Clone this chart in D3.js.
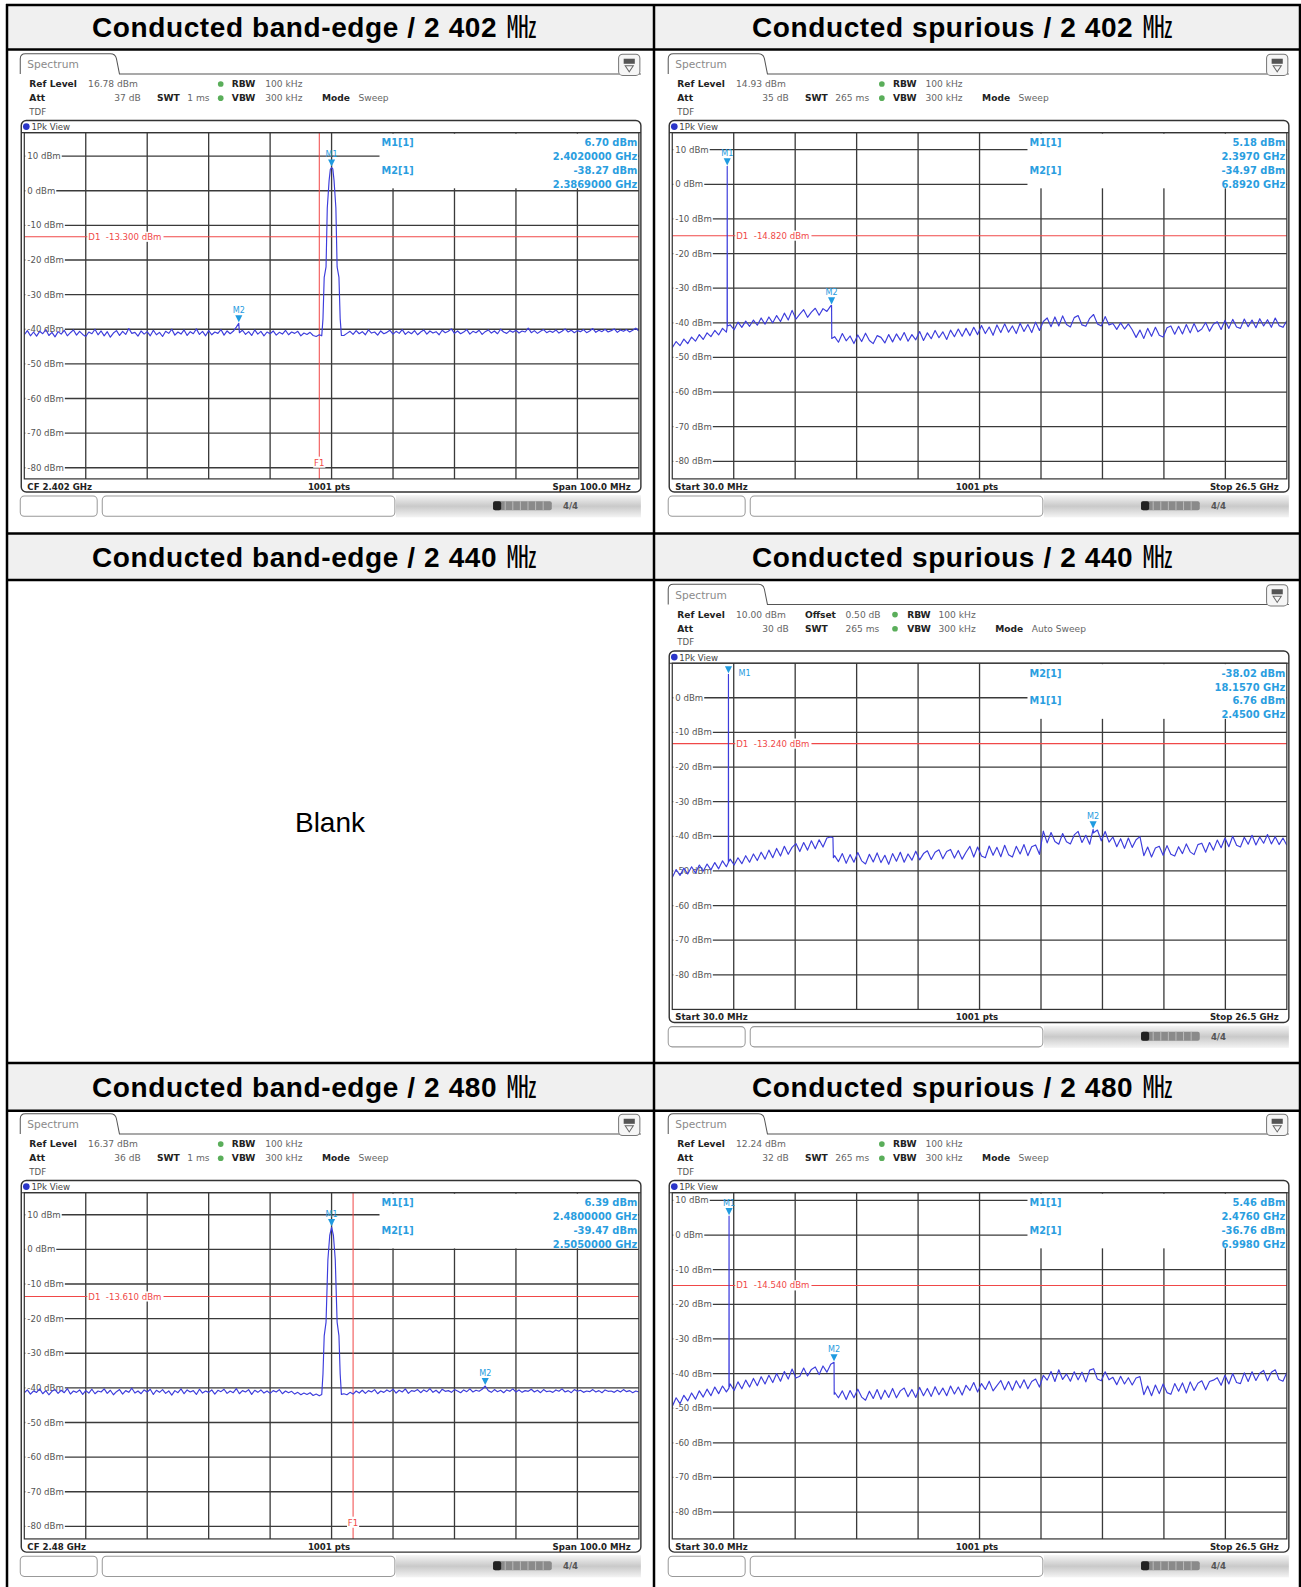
<!DOCTYPE html>
<html><head><meta charset="utf-8">
<script src="https://cdn.jsdelivr.net/npm/d3@7"></script>
<style>body{margin:0;background:#fff}svg{display:block}</style>
</head><body>
<script>
// ================= DATA =================
const rowTitlesLeft  = ["Conducted band-edge / 2 402", "Conducted band-edge / 2 440", "Conducted band-edge / 2 480"];
const rowTitlesRight = ["Conducted spurious / 2 402", "Conducted spurious / 2 440", "Conducted spurious / 2 480"];
const unitText = "㎒";
const blankText = "Blank";

// band-edge noise floor, 0.5 MHz steps from CF-50 MHz to CF+50 MHz (dBm)
const beNoise2402 = [
 -41.6,-40.4,-41.9,-40.8,-42.0,-40.6,-41.3,-40.1,-41.8,-40.9,-42.2,-40.7,-41.4,-40.3,-41.9,-41.0,-40.2,-41.7,-40.6,-41.5,
 -42.1,-40.8,-41.3,-40.0,-41.6,-40.5,-41.9,-40.7,-42.3,-41.1,-40.4,-41.8,-40.6,-41.5,-39.8,-41.2,-40.9,-42.0,-40.5,-41.4,
 -40.7,-41.9,-40.3,-41.6,-40.9,-42.1,-40.6,-41.2,-40.0,-41.7,-40.8,-41.4,-40.2,-41.8,-40.7,-41.3,-39.9,-41.5,-40.6,-41.9,
 -40.4,-41.6,-40.8,-41.2,-40.1,-41.7,-40.5,-41.3,-40.6,-39.4,-41.0,-40.3,-41.5,-40.7,-41.8,-40.2,-41.4,-40.6,-41.9,-40.8,
 -41.3,-40.5,-41.7,-40.9,-41.4,-40.3,-41.6,-40.8,-41.2,-40.6,-41.9,-41.1,-41.5,-40.9,-41.8,-42.1,-41.6,-42.3,-42.0,-42.2,
 -42.0,
 -42.1,-41.9,-42.2,-41.8,-41.2,-40.6,-41.5,-40.4,-41.3,-40.7,-41.6,-40.2,-41.1,-40.8,-41.7,-40.5,-41.3,-40.9,-40.3,-41.4,
 -40.6,-41.2,-40.1,-41.5,-40.7,-41.3,-40.4,-41.6,-40.8,-40.2,-41.4,-40.5,-41.1,-40.7,-41.6,-40.3,-41.0,-40.6,-39.9,-41.2,
 -40.5,-41.3,-40.8,-40.1,-41.4,-40.6,-41.0,-40.3,-41.5,-40.7,-40.2,-41.1,-40.5,-41.3,-40.0,-40.8,-41.2,-40.4,-40.9,-40.3,
 -41.1,-40.5,-40.8,-39.7,-41.0,-40.4,-41.2,-40.6,-40.1,-41.0,-40.5,-40.9,-40.2,-41.1,-40.6,-39.9,-40.8,-40.3,-41.0,-40.4,
 -40.7,-40.1,-41.0,-40.5,-39.8,-40.9,-40.3,-40.7,-40.0,-40.8,-40.4,-39.9,-40.9,-40.2,-40.6,-40.1,-40.8,-40.3,-39.7,-40.5];
const beNoise2480 = [
 -41.4,-40.6,-41.8,-40.9,-41.3,-40.3,-41.7,-40.8,-42.0,-41.0,-40.5,-41.6,-40.7,-41.4,-40.2,-41.8,-40.9,-41.3,-40.6,-41.9,
 -40.8,-41.5,-40.4,-41.7,-40.9,-41.2,-40.3,-41.6,-40.7,-42.0,-41.1,-40.5,-41.8,-40.8,-41.3,-40.1,-41.5,-40.9,-41.7,-40.6,
 -41.2,-40.4,-41.9,-40.7,-41.3,-40.5,-41.6,-40.9,-42.1,-40.8,-41.4,-40.3,-41.7,-40.6,-41.2,-40.8,-41.9,-40.4,-41.5,-40.9,
 -41.3,-40.6,-41.8,-40.7,-41.1,-40.4,-41.6,-40.9,-41.4,-40.2,-41.7,-40.8,-41.2,-40.5,-41.9,-40.7,-41.3,-40.6,-41.5,-40.9,
 -41.6,-40.8,-41.2,-40.5,-41.7,-40.9,-41.4,-41.0,-41.8,-41.3,-42.0,-41.5,-41.9,-41.4,-42.2,-41.8,-42.3,-42.0,-42.4,-42.1,
 -42.0,
 -42.2,-41.9,-42.3,-41.7,-42.0,-41.3,-41.8,-40.9,-41.5,-40.7,-41.6,-40.8,-41.2,-40.5,-41.7,-40.9,-41.3,-40.6,-41.1,-40.4,
 -41.5,-40.7,-41.2,-40.3,-41.6,-40.8,-41.0,-40.5,-41.4,-40.6,-41.1,-40.2,-41.3,-40.7,-41.5,-40.4,-41.0,-40.8,-41.3,-40.5,
 -40.9,-41.4,-40.6,-41.1,-40.3,-41.2,-40.7,-41.0,-40.4,-39.47,-40.8,-41.3,-40.5,-41.1,-40.7,-41.4,-40.6,-41.0,-40.3,-41.2,
 -40.6,-41.3,-40.8,-41.0,-40.4,-41.2,-40.7,-41.4,-40.5,-41.1,-40.9,-41.3,-40.6,-41.0,-40.3,-41.2,-40.8,-41.4,-40.5,-41.0,
 -40.7,-41.3,-40.9,-41.1,-40.5,-41.2,-40.8,-41.4,-40.6,-41.0,-40.9,-41.3,-40.7,-41.2,-40.5,-41.1,-40.8,-41.4,-40.9,-41.2];
// carrier shape (offset from CF in MHz, dBm)
const bePeakOffsets2402 = [-1.6,-1.4,-1.2,-0.9,-0.7,-0.4,-0.2,0,0.2,0.4,0.7,0.9,1.2,1.4,1.6];
const bePeakValues2402  = [-41.9,-37,-25,-22,-5,3,6.2,6.7,6.3,3,-5,-22,-25,-37,-41.8];
const bePeakOffsets2480 = [-1.6,-1.4,-1.2,-0.9,-0.6,-0.3,0,0.3,0.6,0.9,1.2,1.4,1.6];
const bePeakValues2480  = [-41.9,-36,-25,-21,-3,4,6.39,4,-3,-21,-25,-36,-41.9];
const beExtraOffsets2402 = [-15.1];
const beExtraValues2402  = [-38.27];

// spurious traces, 160 points evenly from 30 MHz to 26.5 GHz (dBm)
const sp2402 = [
 -47.2,-45.4,-46.6,-44.7,-46.0,-44.1,-45.3,-43.4,-44.8,-42.9,-44.0,-42.2,-43.5,-41.6,-42.7,
 -40.6,-42.0,-39.8,-41.3,-39.5,-41.0,-39.2,-40.7,-38.6,-40.4,-38.3,-40.0,-37.9,-39.6,-37.2,-39.2,-36.4,-38.9,-37.5,-36.2,-38.4,-36.9,-35.8,-37.8,-35.9,-36.7,-35.1,
 -44.0,-45.6,-43.1,-45.2,-43.8,-46.0,-43.5,-45.4,-43.0,-45.1,-46.0,-43.7,-44.2,-45.8,-43.4,-45.5,-43.2,-45.0,-42.8,-45.3,-43.4,-44.9,-42.5,-45.1,-42.9,-44.6,-42.2,-44.3,-42.6,-44.8,-42.1,-44.0,-41.8,-43.9,
 -41.6,-43.7,-41.3,-43.4,-40.8,-43.1,-41.2,-43.6,-40.6,-42.8,-40.3,-42.7,-40.9,-43.1,-40.1,-42.5,-40.5,-42.8,-39.8,-42.2,
 -39.6,-38.6,-41.1,-38.3,-40.9,-38.0,-40.5,-41.2,-38.5,-37.9,-40.6,-41.0,-38.7,-37.6,-40.3,-40.9,-38.2,-40.6,
 -40.2,-41.9,-40.0,-41.8,-40.3,-42.0,
 -44.2,-42.1,-44.5,-41.6,-43.9,-41.3,-43.6,-44.1,-41.4,-40.9,-43.3,-41.0,-43.2,-40.5,-42.9,-40.2,-42.6,-41.8,-39.9,-42.4,-40.4,
 -39.7,-41.9,-39.3,-41.6,-39.0,-41.2,-41.6,-38.9,-41.1,-39.2,-41.4,-38.8,-40.9,-39.1,-41.3,-38.6,-40.8,-41.3,-39.4];
const sp2440 = [
 -51.9,-49.6,-51.3,-49.2,-50.9,-48.8,-50.6,-48.3,-50.1,-48.0,-49.7,-47.6,-49.4,-47.1,-48.8,
 -46.6,-48.3,-46.2,-47.9,-45.6,-47.5,-45.1,-47.0,-44.6,-46.6,-44.0,-46.2,-43.5,-45.7,-42.9,-45.2,-43.2,-42.1,-44.4,-41.8,-44.0,-41.3,-43.6,-41.0,-43.1,-40.5,-40.2,
 -45.6,-47.3,-45.0,-47.8,-45.3,-47.5,-44.7,-47.1,-48.0,-45.2,-47.4,-44.8,-47.6,-45.5,-48.1,-45.0,-47.2,-44.6,-47.5,-45.1,-46.9,-44.3,-46.8,-45.0,-44.2,-46.7,-44.6,-43.9,-46.5,-44.4,-43.8,-46.3,-44.1,-46.6,
 -44.6,-42.9,-46.0,-43.1,-45.7,-46.2,-42.8,-45.5,-43.2,-45.9,-42.6,-45.3,-46.0,-42.9,-45.1,-42.4,-45.6,-43.0,-42.5,-45.2,
 -38.5,-41.9,-38.9,-41.5,-42.3,-39.2,-41.6,-42.2,-39.6,-38.6,-41.8,-39.7,-42.3,-39.0,-38.2,-41.3,-38.6,-41.7,
 -40.2,-43.0,-40.7,-43.5,-40.5,-43.2,-41.0,-40.1,
 -45.6,-43.1,-46.0,-43.4,-42.9,-45.5,-42.7,-45.2,-45.7,-43.0,-45.0,-42.2,-44.5,-45.3,-42.4,-42.0,-44.6,-41.8,-44.0,
 -41.1,-43.3,-40.5,-43.0,-40.0,-42.6,-43.1,-40.3,-42.3,-39.7,-42.5,-40.2,-42.0,-39.5,-42.2,-40.1,-42.4,-40.5,-42.6];
const sp2480 = [
 -49.5,-47.0,-48.7,-46.3,-47.9,-45.6,-47.4,-45.0,-46.8,-44.5,-46.4,-43.9,-45.8,-43.6,-45.3,
 -43.0,-44.9,-42.4,-44.4,-41.9,-43.9,-41.4,-43.5,-40.9,-43.0,-40.5,-42.6,-40.0,-42.2,-39.4,-41.6,-38.7,-41.3,-40.8,-38.4,-40.7,-38.8,-38.1,-40.3,-37.8,-39.6,-37.3,
 -45.4,-47.0,-45.0,-47.5,-44.9,-47.0,-44.5,-46.8,-47.7,-45.1,-47.2,-44.6,-47.4,-44.8,-46.9,-44.3,-47.0,-45.0,-44.2,-46.7,-44.6,-46.9,-44.0,-46.4,-44.3,-46.6,-43.8,-46.1,-44.2,-46.4,-43.6,-45.9,-43.9,-46.2,
 -43.4,-44.9,-42.6,-45.3,-42.9,-44.6,-42.2,-45.0,-43.5,-42.0,-44.7,-42.3,-44.8,-42.1,-44.2,-41.8,-44.4,-42.3,-41.6,-43.9,
 -40.5,-41.9,-39.4,-42.3,-38.9,-41.7,-40.1,-42.2,-39.5,-41.8,-39.6,-42.4,-39.0,-38.6,-41.6,-42.1,-39.5,-41.8,
 -41.1,-43.2,-40.8,-43.0,-41.2,-43.3,-41.3,-40.9,
 -46.1,-43.6,-46.4,-43.3,-45.8,-43.0,-45.5,-46.0,-42.9,-45.1,-42.7,-45.6,-42.4,-44.9,-42.8,-42.1,-44.7,-42.3,-41.9,
 -41.2,-43.4,-40.5,-43.0,-40.0,-42.6,-42.9,-39.8,-42.3,-39.5,-42.0,-39.9,-39.1,-42.1,-39.6,-38.9,-41.7,-42.2,-39.7];
// extra sweep points (GHz, dBm): carrier spike and step edges
const spExtraF2402 = [2.392, 2.397, 2.402, 6.892, 6.900];
const spExtraV2402 = [-41.3, 5.18, -40.9, -34.97, -44.5];
const spExtraF2440 = [2.445, 2.450, 2.455, 6.950, 6.970, 18.157];
const spExtraV2440 = [-47.6, 6.76, -47.4, -40.4, -46.2, -38.02];
const spExtraF2480 = [2.471, 2.476, 2.481, 6.998, 7.005];
const spExtraV2480 = [-44.2, 5.46, -44.0, -36.76, -46.0];

// instrument settings / readouts
const refLevels = [16.78, 14.93, 10.00, 16.37, 12.24];
const attValues = ["37 dB", "35 dB", "30 dB", "36 dB", "32 dB"];
const swtValues = ["1 ms", "265 ms", "265 ms", "1 ms", "265 ms"];
const modeValues = ["Sweep", "Sweep", "Auto Sweep", "Sweep", "Sweep"];
const d1Values = [-13.300, -14.820, -13.240, -13.610, -14.540];
const f1Values = [2400, null, null, 2483.5, null];
const m1Freq = [2402, 2.397, 2.450, 2480, 2.476];
const m1Val  = [6.70, 5.18, 6.76, 6.39, 5.46];
const m2Freq = [2386.9, 6.892, 18.157, 2505, 6.998];
const m2Val  = [-38.27, -34.97, -38.02, -39.47, -36.76];
const m1FreqText = ["2.4020000 GHz", "2.3970 GHz", "2.4500 GHz", "2.4800000 GHz", "2.4760 GHz"];
const m2FreqText = ["2.3869000 GHz", "6.8920 GHz", "18.1570 GHz", "2.5050000 GHz", "6.9980 GHz"];
const footLeft = ["CF 2.402 GHz", "Start 30.0 MHz", "Start 30.0 MHz", "CF 2.48 GHz", "Start 30.0 MHz"];
const footRight = ["Span 100.0 MHz", "Stop 26.5 GHz", "Stop 26.5 GHz", "Span 100.0 MHz", "Stop 26.5 GHz"];

// ================= DRAW =================
const S = 1301/1285;
const W = 1301, H = 1587;
const svg = d3.select('body').append('svg').attr('width', W).attr('height', H);
const HF = '"Liberation Sans", Arial, "Noto Sans CJK KR", sans-serif';
const PF = '"DejaVu Sans", Verdana, sans-serif';

// table
const xL = 7, xM = 654, xR = 1300;
const hdr = [[5, 49.6], [533.6, 580], [1063, 1110.7]];
function header(x, by, s) {
  const t = svg.append('text').attr('x', x).attr('y', by).attr('font-family', HF).attr('font-weight', 'bold')
    .attr('font-size', 28).attr('letter-spacing', 0.6).attr('fill', '#000');
  t.append('tspan').text(s);
  t.append('tspan').attr('dx', 9).attr('font-family', '"Noto Sans CJK KR", sans-serif').attr('font-weight', 'normal')
    .attr('font-size', 30).attr('letter-spacing', 0).text(unitText);
}
hdr.forEach((h, i) => {
  svg.append('rect').attr('x', xL).attr('y', h[0]).attr('width', xR - xL).attr('height', h[1] - h[0]).attr('fill', '#f0f0f0');
  const by = (h[0] + h[1]) / 2 + 10;
  header(92, by, rowTitlesLeft[i]);
  header(752, by, rowTitlesRight[i]);
});
svg.append('text').attr('x', 330).attr('y', 832).attr('text-anchor', 'middle').text(blankText)
  .attr('font-family', HF).attr('font-size', 28).attr('fill', '#000');
const tl = svg.append('g').attr('stroke', '#000').attr('stroke-width', 2.5);
[5, 49.6, 533.6, 580, 1063, 1110.7].forEach(y => tl.append('line').attr('x1', xL - 1).attr('x2', xR + 1).attr('y1', y).attr('y2', y));
[xL, xM, xR].forEach(x => tl.append('line').attr('x1', x).attr('x2', x).attr('y1', 4).attr('y2', H));

// build traces
function beTrace(cf, noise, pOff, pVal, eOff, eVal) {
  const pts = [], n = noise.length;
  noise.forEach((v, i) => { const o = -50 + i * 100 / (n - 1); if (Math.abs(o) >= 1.8) pts.push([cf + o, v]); });
  pOff.forEach((o, i) => pts.push([cf + o, pVal[i]]));
  (eOff || []).forEach((o, i) => pts.push([cf + o, eVal[i]]));
  return pts.sort((a, b) => a[0] - b[0]);
}
function spTrace(vals, eF, eV) {
  const n = vals.length, pts = vals.map((v, i) => [0.03 + i * (26.5 - 0.03) / (n - 1), v]);
  eF.forEach((f, i) => pts.push([f, eV[i]]));
  return pts.sort((a, b) => a[0] - b[0]);
}
const traces = [
  beTrace(2402, beNoise2402, bePeakOffsets2402, bePeakValues2402, beExtraOffsets2402, beExtraValues2402),
  spTrace(sp2402, spExtraF2402, spExtraV2402),
  spTrace(sp2440, spExtraF2440, spExtraV2440),
  beTrace(2480, beNoise2480, bePeakOffsets2480, bePeakValues2480),
  spTrace(sp2480, spExtraF2480, spExtraV2480)
];
const domains = [[2352, 2452], [0.03, 26.5], [0.03, 26.5], [2430, 2530], [0.03, 26.5]];
const origins = [[19, 53], [659, 53], [659, 577], [19, 1100], [659, 1100]];
const layouts = [
  {swt:136, swtV:166, dot:199, rbw:210, rbwV:243, mode:299, modeV:335},
  {swt:136, swtV:166, dot:212, rbw:223, rbwV:255, mode:311, modeV:347},
  {off:136, offV:176, swt:136, swtV:176, dot:225, rbw:237, rbwV:268, mode:324, modeV:360},
  {swt:136, swtV:166, dot:199, rbw:210, rbwV:243, mode:299, modeV:335},
  {swt:136, swtV:166, dot:212, rbw:223, rbwV:255, mode:311, modeV:347}
];
const MK = '#1f9be0', TR = '#3d3ddc', RED = '#f04848', GRID = '#3a3a3a';

function txt(g, x, y, s, size, fill, weight, anchor) {
  return g.append('text').attr('x', x).attr('y', y).text(s).attr('font-family', PF)
    .attr('font-size', size).attr('fill', fill).attr('font-weight', weight || 'normal')
    .attr('text-anchor', anchor || 'start').style('white-space', 'pre');
}

function drawPanel(k) {
  const [ox, oy] = origins[k], L = layouts[k];
  const g = svg.append('g').attr('transform', `translate(${ox * S},${oy * S}) scale(${S})`);
  // tab + icon
  g.append('path').attr('d', 'M1,20 L1,5 Q1,0 6,0 L90,0 Q95,0 96,5 L99,20 L614,20')
    .attr('fill', 'none').attr('stroke', '#555').attr('stroke-width', 1);
  txt(g, 8, 14.5, 'Spectrum', 10.5, '#8a8a8a');
  g.append('rect').attr('x', 592).attr('y', 0.5).attr('width', 21).attr('height', 21).attr('rx', 4)
    .attr('fill', '#f6f6f6').attr('stroke', '#777');
  g.append('rect').attr('x', 597).attr('y', 5).attr('width', 11).attr('height', 5).attr('fill', '#555');
  g.append('path').attr('d', 'M598.5,12 L606.5,12 L602.5,18 Z').attr('fill', 'none').attr('stroke', '#666');
  // info lines
  const B = '#222', V = '#666';
  txt(g, 10, 33, 'Ref Level', 9, B, 'bold');
  txt(g, 68, 33, refLevels[k].toFixed(2) + ' dBm', 9, V);
  if (L.off) { txt(g, L.off, 33, 'Offset', 9, B, 'bold'); txt(g, L.offV, 33, '0.50 dB', 9, V); }
  g.append('circle').attr('cx', L.dot).attr('cy', 30).attr('r', 2.8).attr('fill', '#5aae5a');
  txt(g, L.rbw, 33, 'RBW', 9, B, 'bold'); txt(g, L.rbwV, 33, '100 kHz', 9, V);
  txt(g, 10, 47, 'Att', 9, B, 'bold'); txt(g, 120, 47, attValues[k], 9, V, 'normal', 'end');
  txt(g, L.swt, 47, 'SWT', 9, B, 'bold'); txt(g, L.swtV, 47, swtValues[k], 9, V);
  g.append('circle').attr('cx', L.dot).attr('cy', 44).attr('r', 2.8).attr('fill', '#5aae5a');
  txt(g, L.rbw, 47, 'VBW', 9, B, 'bold'); txt(g, L.rbwV, 47, '300 kHz', 9, V);
  txt(g, L.mode, 47, 'Mode', 9, B, 'bold'); txt(g, L.modeV, 47, modeValues[k], 9, V);
  txt(g, 10, 60.5, 'TDF', 8.5, '#555');
  // view box
  g.append('rect').attr('x', 2).attr('y', 66).attr('width', 612).attr('height', 367).attr('rx', 5)
    .attr('fill', '#fff').attr('stroke', '#333').attr('stroke-width', 1.4);
  g.append('circle').attr('cx', 7).attr('cy', 72).attr('r', 3.3).attr('fill', '#2a35c8');
  txt(g, 12, 75.5, '1Pk View', 8.5, '#444');

  const [lo, hi] = domains[k], ref = refLevels[k];
  const x = d3.scaleLinear().domain([lo, hi]).range([5, 612]);
  const y = d3.scaleLinear().domain([ref - 100, ref]).range([420, 78]);
  const gg = g.append('g');
  for (let i = 1; i < 10; i++) {
    const xv = x(lo + i * (hi - lo) / 10);
    gg.append('line').attr('x1', xv).attr('x2', xv).attr('y1', 78).attr('y2', 420).attr('stroke', GRID).attr('stroke-width', 1.3);
  }
  const levels = [];
  for (let v = Math.floor(ref / 10) * 10; v > ref - 100; v -= 10) if (v < ref - 0.5) levels.push(v);
  levels.forEach(v => gg.append('line').attr('x1', 5).attr('x2', 612).attr('y1', y(v)).attr('y2', y(v))
    .attr('stroke', GRID).attr('stroke-width', 1.3));
  // marker readout area
  const bx = x(lo + 0.578 * (hi - lo));
  g.append('rect').attr('x', bx).attr('y', 79).attr('width', 611.4 - bx).attr('height', 54).attr('fill', '#fff');
  // level labels
  levels.forEach(v => {
    const t = txt(g, 8, y(v) + 3, v + ' dBm', 8.5, '#555');
    const w = t.node().getComputedTextLength();
    g.insert('rect', () => t.node()).attr('x', 6).attr('y', y(v) - 5).attr('width', w + 3).attr('height', 10).attr('fill', '#fff');
  });
  // D1 limit
  const yd = y(d1Values[k]);
  g.append('line').attr('x1', 5).attr('x2', 612).attr('y1', yd).attr('y2', yd).attr('stroke', RED).attr('stroke-width', 1);
  const dx = x(lo + (hi - lo) / 10) + 1.5;
  const dt = txt(g, dx + 1, yd + 3, 'D1  ' + d1Values[k].toFixed(3) + ' dBm', 8.5, RED);
  const dw = dt.node().getComputedTextLength();
  g.insert('rect', () => dt.node()).attr('x', dx).attr('y', yd - 5).attr('width', dw + 3).attr('height', 10).attr('fill', '#fff');
  // F1 line
  if (f1Values[k] !== null) {
    const xf = x(f1Values[k]);
    g.append('line').attr('x1', xf).attr('x2', xf).attr('y1', 78).attr('y2', 420).attr('stroke', RED).attr('stroke-width', 1);
    g.append('rect').attr('x', xf - 6).attr('y', 398).attr('width', 12).attr('height', 11).attr('fill', '#fff');
    txt(g, xf, 407, 'F1', 8.5, RED, 'normal', 'middle');
  }
  // trace
  const cid = 'clip' + k;
  g.append('clipPath').attr('id', cid).append('rect').attr('x', 5).attr('y', 78).attr('width', 607).attr('height', 342);
  g.append('path').datum(traces[k]).attr('clip-path', `url(#${cid})`)
    .attr('d', d3.line().x(d => x(d[0])).y(d => y(d[1])))
    .attr('fill', 'none').attr('stroke', TR).attr('stroke-width', 1.15).attr('stroke-linejoin', 'round');
  // markers
  [[m1Freq[k], m1Val[k], 'M1'], [m2Freq[k], m2Val[k], 'M2']].forEach(([f, v, nm], j) => {
    const mx = x(f), my = y(v) - 1;
    g.append('path').attr('d', `M${mx - 3.5},${my - 7} L${mx + 3.5},${my - 7} L${mx},${my} Z`).attr('fill', MK);
    if (k === 2 && j === 0) txt(g, mx + 10, my + 3, nm, 8, MK);
    else txt(g, mx, my - 9, nm, 8, MK, 'normal', 'middle');
  });
  // marker readout
  const rows = (k === 2)
    ? [['M2[1]', m2Val[k].toFixed(2) + ' dBm'], ['', m2FreqText[k]], ['M1[1]', m1Val[k].toFixed(2) + ' dBm'], ['', m1FreqText[k]]]
    : [['M1[1]', m1Val[k].toFixed(2) + ' dBm'], ['', m1FreqText[k]], ['M2[1]', m2Val[k].toFixed(2) + ' dBm'], ['', m2FreqText[k]]];
  rows.forEach((r, i) => {
    const yy = 91.5 + i * 13.6;
    if (r[0]) txt(g, bx + 2, yy, r[0], 9.6, '#2a9ee0', 'bold');
    txt(g, 610.5, yy, r[1], 9.8, '#2a9ee0', 'bold', 'end');
  });
  // plot frame & footer
  g.append('rect').attr('x', 5).attr('y', 78).attr('width', 607).attr('height', 342).attr('fill', 'none').attr('stroke', '#333').attr('stroke-width', 1.2);
  g.append('line').attr('x1', 2).attr('x2', 614).attr('y1', 78).attr('y2', 78).attr('stroke', '#333').attr('stroke-width', 1);
  txt(g, 8, 430.5, footLeft[k], 8.5, '#222', 'bold');
  txt(g, 306, 430.5, '1001 pts', 8.5, '#222', 'bold', 'middle');
  txt(g, 604, 430.5, footRight[k], 8.5, '#222', 'bold', 'end');
  // status bar
  const gid = 'grad' + k;
  const grad = g.append('linearGradient').attr('id', gid).attr('x1', 0).attr('x2', 0).attr('y1', 0).attr('y2', 1);
  grad.append('stop').attr('offset', 0).attr('stop-color', '#f4f4f4');
  grad.append('stop').attr('offset', 0.5).attr('stop-color', '#c9c9c9');
  grad.append('stop').attr('offset', 1).attr('stop-color', '#f4f4f4');
  g.append('rect').attr('x', 372).attr('y', 436).attr('width', 242).attr('height', 22).attr('fill', `url(#${gid})`);
  g.append('rect').attr('x', 1).attr('y', 437).attr('width', 76).attr('height', 20).attr('rx', 4).attr('fill', '#fff').attr('stroke', '#999');
  g.append('rect').attr('x', 82).attr('y', 437).attr('width', 289).attr('height', 20).attr('rx', 4).attr('fill', '#fff').attr('stroke', '#999');
  g.append('rect').attr('x', 468).attr('y', 442).attr('width', 58).attr('height', 9).attr('rx', 2).attr('fill', '#8a8a8a');
  g.append('rect').attr('x', 468).attr('y', 442).attr('width', 8).attr('height', 9).attr('rx', 2).attr('fill', '#222');
  for (let i = 0; i < 6; i++) g.append('line').attr('x1', 480 + i * 7.5).attr('x2', 480 + i * 7.5).attr('y1', 442).attr('y2', 451).attr('stroke', '#bbb').attr('stroke-width', 1);
  txt(g, 537, 450, '4/4', 8.5, '#555', 'bold');
}
for (let k = 0; k < 5; k++) drawPanel(k);
</script>
</body></html>
